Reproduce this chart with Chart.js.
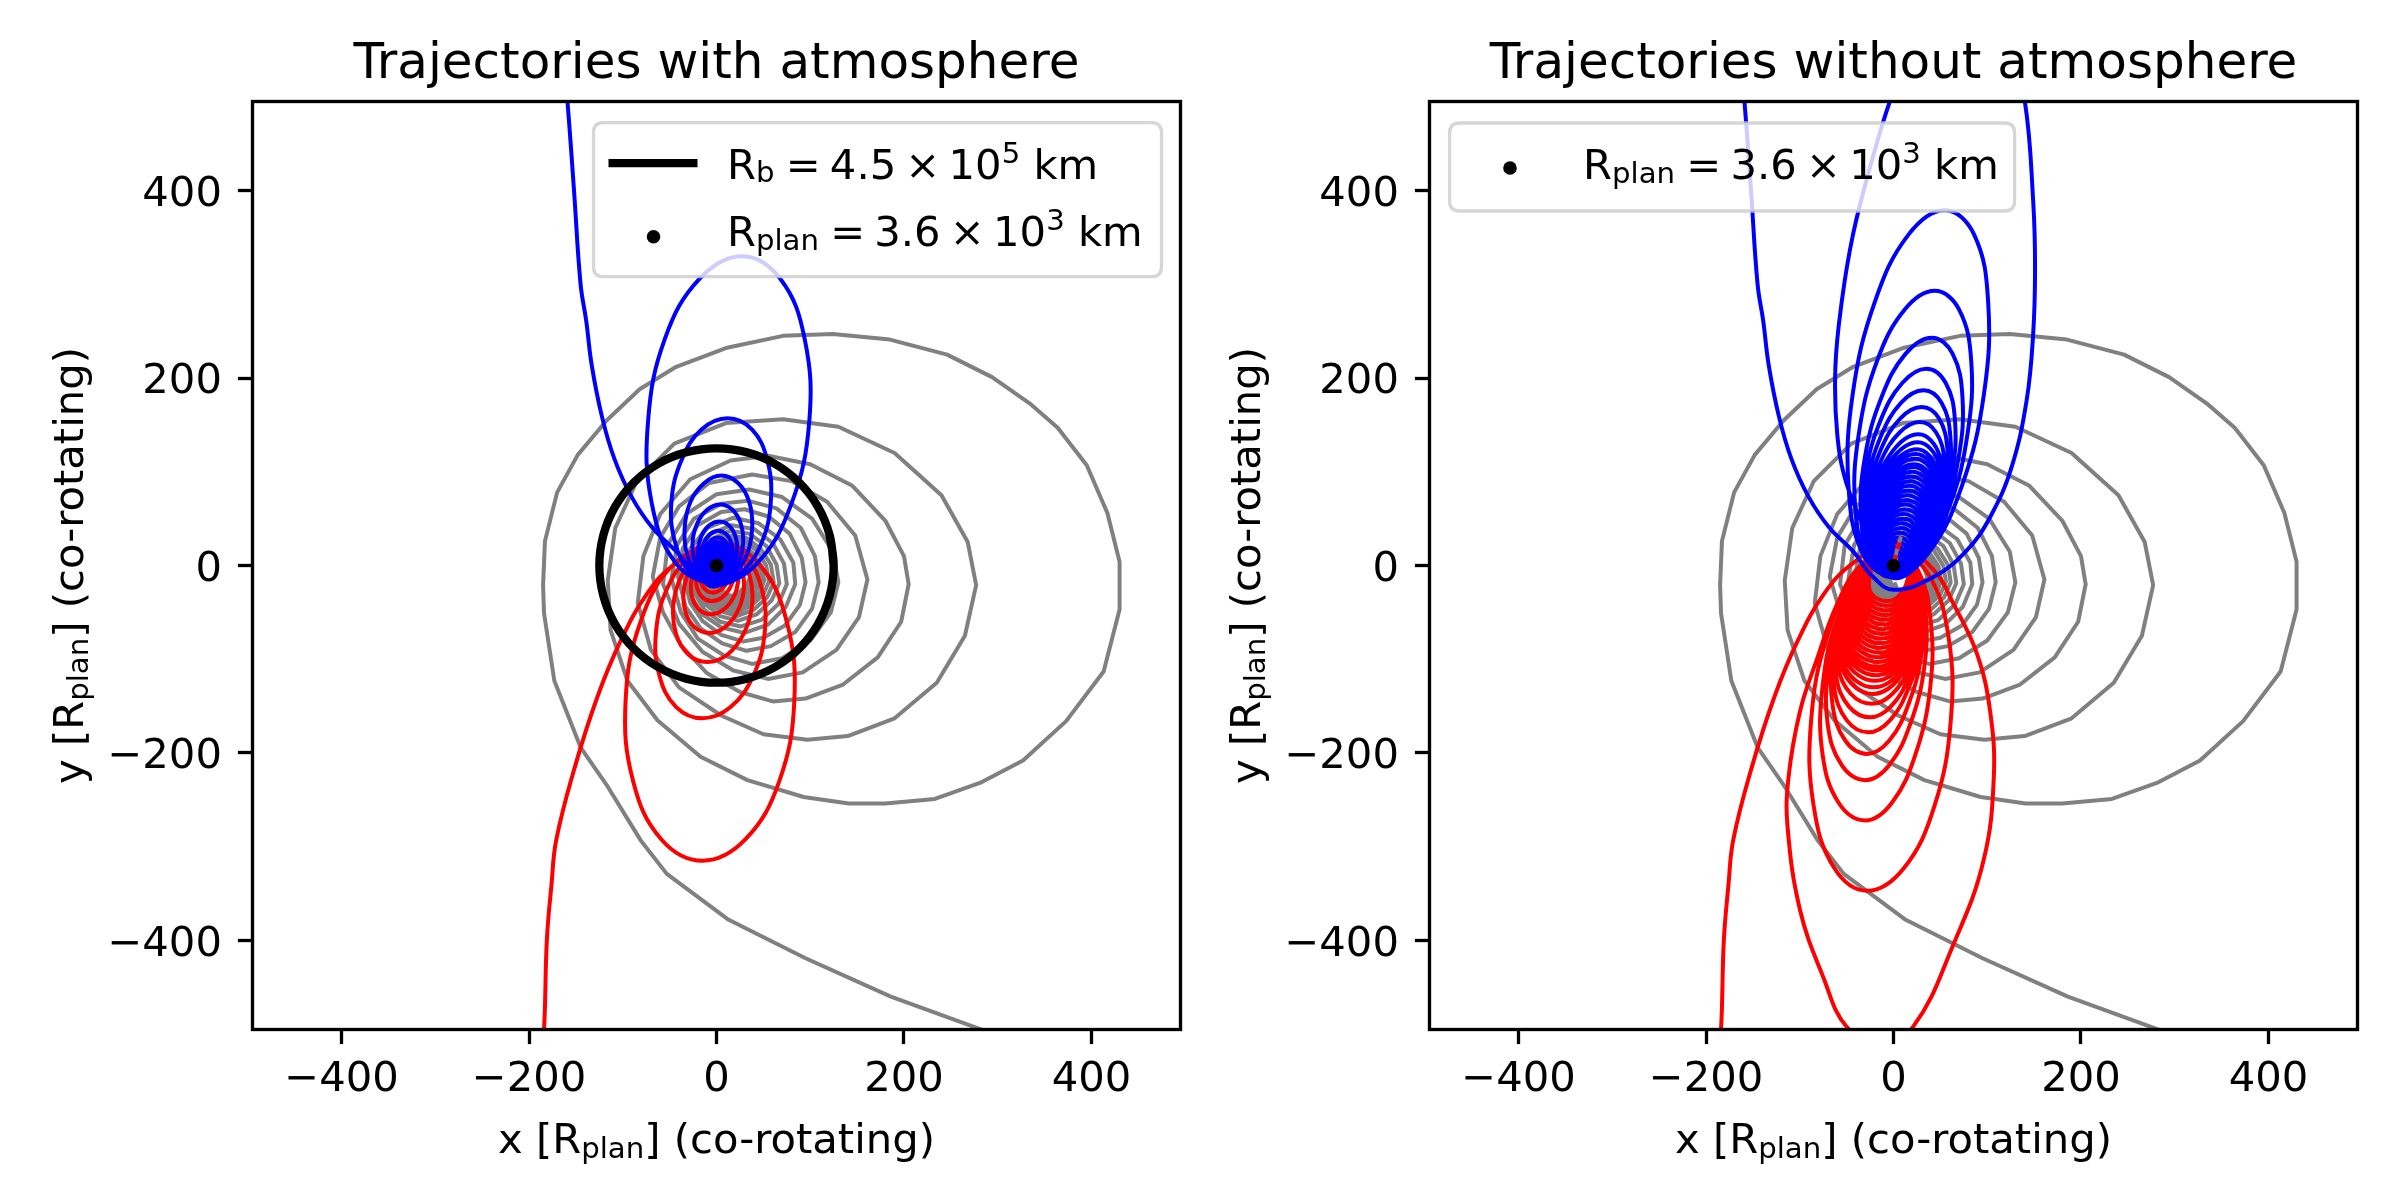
<!DOCTYPE html>
<html><head><meta charset="utf-8">
<script src="https://cdn.jsdelivr.net/npm/chart.js@4.4.1/dist/chart.umd.min.js"></script>
<style>
html,body{margin:0;padding:0;background:#fff;}
#wrap{position:relative;width:2400px;height:1200px;background:#fff;}
canvas{position:absolute;top:0;}
#c1{left:0;} #c2{left:1200px;}
</style></head>
<body><div id="wrap"><canvas id="c1" width="1200" height="1200"></canvas><canvas id="c2" width="1200" height="1200"></canvas></div>
<script>
const FONT = 'DejaVu Sans';
Chart.defaults.font.family = FONT;

// ---------- data ----------
const axisLimits = [-495, 495];
const tickValues = [-400, -200, 0, 200, 400];
const panelTitles = ['Trajectories with atmosphere', 'Trajectories without atmosphere'];
// [text, kind] kind: 0 normal, 1 subscript, 2 superscript, 3 gap (em)
const xLabelParts = [['x [R',0],['plan',1],['] (co-rotating)',0]];
const yLabelParts = [['y [R',0],['plan',1],['] (co-rotating)',0]];
const rbLabelParts = [['R',0],['b',1],['',3,0.27],['=',0],['',3,0.22],['4.5',0],['',3,0.22],['\u00d7',0],['',3,0.2],['10',0],['5',2],[' km',0]];
const rplanLabelParts = [['R',0],['plan',1],['',3,0.27],['=',0],['',3,0.22],['3.6',0],['',3,0.22],['\u00d7',0],['',3,0.2],['10',0],['3',2],[' km',0]];

const planetPoint = [[0,0]];

const boundaryCircle = [[125,0],[120.7,32.4],[108.3,62.5],[88.4,88.4],[62.5,108.3],[32.4,120.7],[0,125],[-32.4,120.7],[-62.5,108.3],[-88.4,88.4],[-108.3,62.5],[-120.7,32.4],[-125,0],[-120.7,-32.4],[-108.3,-62.5],[-88.4,-88.4],[-62.5,-108.3],[-32.4,-120.7],[0,-125],[32.4,-120.7],[62.5,-108.3],[88.4,-88.4],[108.3,-62.5],[120.7,-32.4],[125,0],[120.7,32.4]];

const grayTrajectory = [
 [310,-505],[186,-460],[95,-419],[13,-378],[-53,-329],[-81,-293],[-116,-236],[-145,-194],[-173,-123],[-184,-51],
 [-185,-21],[-183,26],[-170,78],[-148,118],[-117,155],[-82,188],[-43,212],[10,232],[71,245],[124,247],[185,241],[246,225],[294,201],[334,173],[364,147],[395,107],[417,56],[430,4],[430,-47],[413,-113],[373,-166],[327,-208],[281,-232],[233,-249],[180,-254],[141,-254],[93,-247],[33,-229],[-17,-204],[-63,-165],[-95,-123],[-113,-69],
 [-116,-16],[-108,40],[-85,90],[-45,130],[10,152],[71,156],[130,148],[190,120],[240,75],[268,25],[277,-21],[265,-75],[235,-125],[190,-163],[140,-182],[97,-186],[50,-180],[5,-160],[-40,-130],[-70,-90],
 [-84,-40],[-78,10],[-60,55],[-28,92],[15,112],[55,117],[100,108],[145,85],[180,48],[200,10],[205,-20],[197,-60],[172,-98],[135,-127],[95,-142],[60,-145],[25,-135],[-10,-115],[-38,-85],[-57,-50],
 [-68,-12],[-60,30],[-40,63],[-8,88],[38,97],[80,90],[118,68],[148,32],[161,-15],[152,-55],[128,-90],[92,-114],[55,-121],[18,-112],[-15,-92],[-40,-62],
 [-57,-20],[-52,22],[-32,55],[0,76],[35,81],[70,73],[102,50],[124,15],[130,-18],[122,-50],[100,-80],[70,-99],[38,-105],[8,-96],[-20,-78],[-38,-50],
 [-48,-14],[-42,22],[-24,50],[5,66],[34,69],[64,61],[90,40],[105,10],[109,-18],[102,-46],[84,-71],[58,-86],[32,-91],[6,-83],[-17,-67],[-33,-44],
 [-41,-12],[-36,18],[-20,43],[5,57],[30,60],[56,52],[78,34],[91,8],[95,-18],[89,-42],[73,-64],[50,-77],[28,-81],[5,-74],[-15,-59],[-28,-40],
 [-35,-11],[-28,18],[-10,40],[18,51],[45,45],[68,28],[82,3],[84,-20],[74,-44],[55,-63],[30,-72],[5,-66],[-15,-52],[-27,-33],
 [-30,-11],[-24,14],[-8,33],[16,43],[40,39],[60,24],[72,2],[75,-20],[66,-41],[48,-58],[26,-65],[4,-60],[-13,-47],[-23,-30],
 [-26,-11],[-20,11],[-6,28],[14,37],[35,34],[53,21],[64,1],[67,-19],[59,-37],[43,-52],[23,-59],[4,-54],[-11,-42],[-20,-27],
 [-22,-11],[-17,9],[-5,24],[13,32],[31,30],[47,18],[58,1],[61,-18],[54,-34],[40,-47],[22,-54],[5,-49],[-9,-38],[-17,-25],
 [-19,-11],[-14,7],[-3,21],[13,28],[29,26],[43,16],[53,0],[56,-17],[50,-31],[37,-43],[21,-50],[5,-45],[-7,-35],[-14,-23],
 [-16,-11],[-12,5],[-2,18],[13,24],[27,22],[39,13],[48,-1],[51,-16],[46,-29],[34,-40],[20,-46],[6,-42],[-5,-33],[-11,-22],
 [-13,-11],[-9,4],[0,15],[14,21],[26,19],[36,11],[44,-1],[47,-15],[42,-27],[32,-37],[19,-43],[7,-39],[-3,-31],[-9,-21],
 [-11,-11],[-7,3],[1,13],[14,18],[25,17],[34,9],[41,-2],[44,-14],[39,-25],[30,-34],[19,-40],[8,-36],[-1,-29],[-7,-20],
 [-9,-11],[-5,2],[2,11],[14,15],[24,14],[32,7],[38,-3],[41,-13],[36,-24],[28,-32],[18,-37],[9,-34],[1,-27],[-5,-19],
 [-7,-11],[-4,1],[3,9],[14,13],[23,12],[30,6],[35,-3],[38,-12],[34,-22],[26,-30],[17,-35],[9,-32],[2,-26],[-3,-18],
 [-5,-11],[-2,0],[4,7],[14,11],[22,10],[28,4],[33,-4],[36,-12],[32,-21],[25,-28],[17,-33],[10,-30],[4,-25],[1,-18]
];

const blueWithAtmosphere = [
 [-161,510],[-159,495],[-152,400],[-145,300],[-139,261],[-133,213],[-122,158],[-109,114],[-91,74],[-69,41],[-43,15],[-22,-8],
 [-2,-22],[43,2],[80,66],[99,154],[94,242],[68,306],[27,330],[-18,306],[-55,242],[-73,154],[-69,66],[-43,2],
 [-2,-20],[26,-8],[48,24],[58,69],[54,113],[38,145],[12,157],[-16,145],[-37,113],[-48,69],[-44,24],[-27,-8],
 [-1,-18],[17.5,-10],[32,10.5],[38,39],[35,67.5],[23,88],[5,96],[-13,88],[-28,67.5],[-34,39],[-31,10.5],[-18.5,-10],
 [-1,-17],[13,-11.5],[23.6,3.5],[28.4,24],[26,44.5],[17,59.5],[4,65],[-10,59.5],[-20.7,44.5],[-25.6,24],[-23,3.5],[-14,-11.5],
 [-1,-16],[9.8,-11.8],[18.2,-0.3],[22,15.5],[20.2,31.3],[13.2,42.8],[3,47],[-7.8,42.8],[-16.2,31.3],[-20,15.5],[-18.2,-0.3],[-11.2,-11.8],
 [-1,-15],[7.9,-11.5],[14.6,-2],[17.6,11],[16,24],[10.3,33.5],[2,37],[-6.7,33.5],[-13.4,24],[-16.4,11],[-14.8,-2],[-9.1,-11.5],
 [-0.7,-14],[6.5,-11.1],[12,-3],[14.4,8],[13.1,19],[8.4,27],[1.5,30],[-5.6,27],[-11.2,19],[-13.6,8],[-12.3,-3],[-7.5,-11.1],
 [0,-13],[6,-10.5],[10.4,-3.5],[12.3,6],[11,15.5],[7,22.5],[1,25],[-5,22.5],[-9.6,15.5],[-11.7,6],[-10.4,-3.5],[-6,-10.5],
 [0,-12],[8.5,-7.2],[12,4.5],[8.5,16.2],[0,21],[-8.5,16.2],[-12,4.5],[-8.5,-7.2],
 [0,-11],[7.8,-6.8],[11,3.5],[7.8,13.8],[0,18],[-7.8,13.8],[-11,3.5],[-7.8,-6.8],
 [0,-10],[7.1,-6.3],[10,2.5],[7.1,11.3],[0,15],[-7.1,11.3],[-10,2.5],[-7.1,-6.3],
 [0,-9],[6,-5.9],[8.5,1.5],[6,8.9],[0,12],[-6,8.9],[-8.5,1.5],[-6,-5.9],
 [0,-8],[5,-5.4],[7,1],[5,7.4],[0,10],[-5,7.4],[-7,1],[-5,-5.4],
 [0,-7],[4.2,-4.8],[6,0.5],[4.2,5.8],[0,8],[-4.2,5.8],[-6,0.5],[-4.2,-4.8],[0,-7]
];

const redWithAtmosphere = [
 [-187,-510],[-184,-495],[-181,-400],[-176,-340],[-171,-293],[-152,-218],[-127,-140],[-102,-80],[-74,-30],[-44,2],
 [1,25],[45,2],[75,-60],[83,-145],[67,-230],[31,-292],[-15,-315],[-59,-292],[-89,-230],[-97,-145],[-81,-60],[-45,2],
 [2,22],[30,9.6],[48,-24],[51.5,-70.5],[39.5,-117],[15,-151],[-15,-163],[-43,-151],[-61,-117],[-64.5,-70.5],[-52.4,-24],[-28,9.6],
 [2,20],[22,12],[35.4,-11],[38,-41.5],[29.4,-72],[11.8,-95],[-10,-103],[-30,-95],[-43.4,-72],[-46,-41.5],[-37.4,-11],[-20,12],
 [2,18],[17.3,12],[27.2,-4.5],[29,-27],[22.2,-49.5],[8.7,-66],[-8,-72],[-23.3,-66],[-33.2,-49.5],[-35,-27],[-28.2,-4.5],[-14.7,12],
 [2,17],[13.9,12.4],[21.7,-0.3],[23,-17.5],[17.7,-34.8],[7,-47.4],[-6,-52],[-18,-47.4],[-25.7,-34.8],[-27,-17.5],[-21.7,-0.3],[-11.1,12.4],
 [2,16],[11.6,12.4],[17.6,2.5],[18.6,-11],[14.1,-24.5],[5.5,-34.4],[-5,-38],[-14.5,-34.4],[-20.5,-24.5],[-21.4,-11],[-17,2.5],[-8.4,12.4],
 [2,15],[9.7,12.1],[14.5,4],[15,-7],[11.4,-18],[4.4,-26],[-4,-29],[-11.6,-26],[-16.4,-18],[-17,-7],[-13.3,4],[-6.3,12.1],
 [1.8,14],[8,11.5],[11.9,4.75],[12.4,-4.5],[9.5,-13.75],[3.8,-20.5],[-3,-23],[-9.2,-20.5],[-13,-13.75],[-13.6,-4.5],[-10.6,4.75],[-5,11.5],[1.5,13]
];

const blueWithoutAtmosphere = [
 [-161,510],[-159,495],[-152,400],[-145,300],[-139,261],[-133,213],[-122,158],[-109,114],[-91,74],[-69,41],[-43,15],[-22,-12],[0,-26],
 [43,-12],[78,16],[103,51.5],[126,105],[142,176],[149,247],[151,318],[149,389],[140,496],[125,545],[100,578],[75,590],[45,582],[20,555],[-3.6,496],[-25,425],[-43,354],[-55,283],[-62,211.5],[-60,140],[-50,87],[-28,34],
 [-2,-13],[37,13],[73,85],[96.5,183],[101,281],[86,353],[55,379],[16,353],[-20,281],[-43.5,183],[-48,85],[-33,13],
 [-2,-12],[30,8],[60,64],[79,140.5],[83,217],[70,273],[44,293],[12,273],[-18,217],[-37,140.5],[-41,64],[-28,8],
 [-2,-12],[26,5],[52,52],[69.5,115.5],[73.6,179],[63,226],[41,243],[13,226],[-13,179],[-30.5,115.5],[-34.6,52],[-24,5],
 [-2,-12],[23.5,3],[47,43.5],[62.5,99],[65.6,154.5],[55.6,195],[35,210],[9.6,195],[-14,154.5],[-29.5,99],[-32.5,43.5],[-22.5,3],
 [-2,-12],[21.7,1.3],[43.7,37.8],[58,87.5],[60.7,137.3],[51.2,173.7],[32,187],[8.2,173.7],[-13.7,137.3],[-28,87.5],[-30.7,37.8],[-21.3,1.3],
 [-2,-12],[20.5,0],[41.4,33.3],[55,78.5],[57.5,123.8],[48.4,157],[30,169],[7.4,157],[-13.5,123.8],[-27,78.5],[-29.6,33.3],[-20.5,0],
 [-2,-12],[19.3,-1],[39.2,29.3],[51.9,70.5],[54.3,111.8],[45.5,141.9],[28,153],[6.5,141.9],[-13.3,111.8],[-26.1,70.5],[-28.4,29.3],[-19.7,-1],
 [-2,-12],[28.5,10.3],[50,64],[49,117.7],[27,140],[-4,117.7],[-25,64],[-24.5,10.3],
 [-2,-12],[27.6,9],[48.3,59.8],[47.7,110.5],[26,131.5],[-3.9,110.5],[-24.7,59.8],[-24,9],
 [-2,-12],[26.7,7.9],[46.7,56],[45.9,104],[25,124],[-4.3,104],[-24.3,56],[-23.5,7.9],
 [-2,-12],[26.1,7.2],[45.7,53.5],[44.7,99.8],[24,119],[-4.7,99.8],[-24.3,53.5],[-23.3,7.2],
 [-2,-12],[25.7,6.5],[44.7,51],[43.5,95.5],[23,114],[-5.3,95.5],[-24.3,51],[-23.1,6.5],
 [-2,-12],[25.1,5.6],[43.8,48],[42.4,90.4],[22,108],[-5.6,90.4],[-24.2,48],[-22.9,5.6],
 [-2,-12],[24.7,5.1],[42.8,46.5],[41.3,87.9],[21,105],[-6.1,87.9],[-24.2,46.5],[-22.7,5.1],
 [-2,-11],[24.4,5.3],[41.9,44.5],[40,83.7],[20,100],[-6.6,83.7],[-24.1,44.5],[-22.2,5.3],
 [-2,-11],[23.5,4.5],[40.4,42],[38.5,79.5],[19,95],[-6.7,79.5],[-23.6,42],[-21.7,4.5],
 [-2,-11],[22.7,3.8],[38.9,39.5],[36.9,75.2],[18,90],[-6.9,75.2],[-23.1,39.5],[-21.1,3.8],
 [-2,-11],[21.8,3.1],[37.4,37],[35.4,70.9],[17,85],[-7,70.9],[-22.6,37],[-20.6,3.1],
 [-2,-11],[21,2.3],[35.9,34.5],[33.8,66.7],[16,80],[-7.2,66.7],[-22.1,34.5],[-20,2.3],
 [-2,-11],[20.1,1.6],[34.4,32],[32.3,62.4],[15,75],[-7.3,62.4],[-21.6,32],[-19.5,1.6],
 [-2,-11],[19.3,0.9],[32.9,29.5],[30.7,58.1],[14,70],[-7.5,58.1],[-21.1,29.5],[-18.9,0.9],
 [-2,-11],[18.4,0],[31.4,27],[29.2,53.9],[13,65],[-7.6,53.9],[-20.6,27],[-18.4,0],
 [-2,-11],[17.6,-0.6],[29.9,24.5],[27.6,49.6],[12,60],[-7.8,49.6],[-20.1,24.5],[-17.8,-0.6],
 [-2,-11],[16.7,-1.3],[28.4,22],[26.1,45.3],[11,55],[-7.9,45.3],[-19.6,22],[-17.3,-1.3],
 [-2,-11],[15.5,-2.1],[26.4,19.5],[24.1,41.1],[10,50],[-7.7,41.1],[-18.6,19.5],[-16.3,-2.1],
 [-2,-11],[14.2,-2.8],[24.4,17],[22.2,36.8],[9,45],[-7.4,36.8],[-17.6,17],[-15.4,-2.8],
 [-2,-11],[13.1,-3.5],[22.4,14.5],[20.3,32.5],[8,40],[-7.3,32.5],[-16.6,14.5],[-14.5,-3.5],
 [-2,-11],[11.8,-4.3],[20.4,12],[18.4,28.3],[7,35],[-7,28.3],[-15.6,12],[-13.6,-4.3],
 [-2,-10],[10.5,-4.1],[18,10],[16.1,24.1],[6,30],[-6.5,24.1],[-14,10],[-12.1,-4.1],
 [-1.8,-9],[8.7,-4],[15.1,8],[13.5,20],[5,25],[-5.5,20],[-11.9,8],[-10.3,-4],
 [-1.6,-8],[7,-3.9],[12.2,6],[11,15.9],[4,20],[-4.6,15.9],[-9.8,6],[-8.6,-3.9],
 [-1.4,-7],[5.2,-3.8],[9.3,4],[8.4,11.8],[3,15],[-3.6,11.8],[-7.7,4],[-6.8,-3.8],
 [-1.2,-6],[3.9,-3.5],[7,2.5],[6.3,8.5],[2.2,11],[-2.9,8.5],[-6,2.5],[-5.3,-3.5],[-1.2,-6]
];

const redWithoutAtmosphere = [
 [-187,-510],[-184,-495],[-181,-400],[-176,-340],[-171,-293],[-152,-218],[-127,-140],[-102,-80],[-74,-30],[-44,2],
 [0,25],[43,-5],[64,-41],[89,-94],[103,-155],[107,-226],[96,-315],[64,-404],[21,-492],[-14,-510],[-50,-492],[-75,-439],[-99.6,-368],[-113,-279],[-112,-226],[-99.6,-155],[-82,-101],[-60,-41],[-35,0],
 [1.3,16],[36.5,-8.3],[58.5,-74.75],[61.1,-165.5],[43.8,-256.25],[11.2,-322.7],[-28,-347],[-63.2,-322.7],[-85.2,-256.25],[-87.9,-165.5],[-70.5,-74.75],[-37.9,-8.3],
 [1.5,14],[26.2,-5.2],[39.5,-57.5],[39.3,-129],[23.8,-200.5],[-1.5,-252.8],[-30,-272],[-58.7,-252.8],[-75.8,-200.5],[-75.7,-129],[-60.1,-57.5],[-31.4,-5.2],
 [1.7,13],[23.1,-3.2],[34,-47.5],[32.9,-108],[18.1,-168.5],[-4.4,-212.8],[-30,-229],[-55.4,-212.8],[-70.3,-168.5],[-69.1,-108],[-54.4,-47.5],[-27.9,-3.2],
 [1.8,13],[21.3,-1.3],[31.1,-40.5],[29.9,-94],[16.2,-147.5],[-4.5,-186.7],[-28,-201],[-51.5,-186.7],[-65.2,-147.5],[-64.1,-94],[-50.3,-40.5],[-25.7,-1.3],
 [2,13],[21,0.2],[30.6,-34.75],[29.6,-82.5],[16.3,-130.25],[-3.8,-165.2],[-26.7,-178],[-49.8,-165.2],[-63.3,-130.25],[-62.4,-82.5],[-49,-34.75],[-25,0.2],
 [2,13],[20.7,1.3],[30.3,-30.75],[29.5,-74.5],[16.8,-118.25],[-2.7,-150.3],[-25,-162],[-47.7,-150.3],[-61.2,-118.25],[-60.5,-74.5],[-47.7,-30.75],[-24.3,1.3],
 [2,13],[20.6,2.2],[30.3,-27.15],[30,-67.3],[17.7,-107.45],[-1.1,-136.8],[-23,-147.6],[-45.6,-136.8],[-59.3,-107.45],[-59,-67.3],[-46.7,-27.15],[-24,2.2],
 [1.9,12],[26.5,-9.8],[30,-62.5],[9.7,-115.2],[-22,-137],[-52.5,-115.2],[-58,-62.5],[-35.7,-9.8],
 [1.9,12],[26.4,-8.8],[30.1,-59],[10.3,-109.2],[-20.8,-130],[-51.3,-109.2],[-56.9,-59],[-35.2,-8.8],
 [1.9,12],[26.2,-7.8],[30.1,-55.5],[10.9,-103.2],[-19.7,-123],[-49.9,-103.2],[-55.9,-55.5],[-34.6,-7.8],
 [1.9,12],[25.9,-6.9],[30.1,-52.5],[11.3,-98.1],[-18.7,-117],[-48.7,-98.1],[-54.9,-52.5],[-34.1,-6.9],
 [1.9,12],[25.7,-6.2],[30,-50],[11.7,-93.8],[-17.9,-112],[-47.7,-93.8],[-54,-50],[-33.7,-6.2],
 [1.9,12],[25.4,-5.6],[29.8,-48],[11.8,-90.4],[-17.3,-108],[-46.8,-90.4],[-53.2,-48],[-33.2,-5.6],
 [1.9,12],[25.2,-4.8],[29.7,-45.5],[12.2,-86.2],[-16.5,-103],[-45.8,-86.2],[-52.3,-45.5],[-32.8,-4.8],
 [1.9,12],[24.2,-4.1],[28.6,-43],[11.8,-81.9],[-15.7,-98],[-44,-81.9],[-50.4,-43],[-31.6,-4.1],
 [1.9,12],[23.4,-3.4],[27.5,-40.5],[11.5,-77.6],[-14.9,-93],[-42.3,-77.6],[-48.5,-40.5],[-30.4,-3.4],
 [1.9,12],[22.4,-2.7],[26.4,-38],[11.1,-73.4],[-14.1,-88],[-40.5,-73.4],[-46.6,-38],[-29.2,-2.7],
 [1.9,12],[21.4,-1.9],[25.3,-35.5],[10.6,-69.1],[-13.3,-83],[-38.8,-69.1],[-44.7,-35.5],[-28,-1.9],
 [1.9,12],[20.5,-1.2],[24.2,-33],[10.3,-64.8],[-12.5,-78],[-37.1,-64.8],[-42.8,-33],[-26.9,-1.2],
 [1.9,12],[19.5,-0.5],[23.1,-30.5],[9.9,-60.5],[-11.7,-73],[-35.3,-60.5],[-40.9,-30.5],[-25.7,-0.5],
 [1.9,12],[18.6,0.3],[22,-28],[9.6,-56.3],[-10.9,-68],[-33.6,-56.3],[-39,-28],[-24.6,0.3],
 [1.9,12],[17.7,1],[20.9,-25.5],[9.2,-52],[-10.1,-63],[-31.8,-52],[-37.1,-25.5],[-23.3,1],
 [1.9,12],[16.7,1.7],[19.8,-23],[8.8,-47.7],[-9.3,-58],[-30,-47.7],[-35.2,-23],[-22.1,1.7],
 [1.9,12],[15.8,2.5],[18.7,-20.5],[8.4,-43.5],[-8.5,-53],[-28.4,-43.5],[-33.3,-20.5],[-21,2.5],
 [1.9,12],[14.8,3.2],[17.6,-18],[8,-39.2],[-7.7,-48],[-26.6,-39.2],[-31.4,-18],[-19.8,3.2],
 [1.9,12],[13.9,3.9],[16.5,-15.5],[7.7,-34.9],[-6.9,-43],[-24.9,-34.9],[-29.5,-15.5],[-18.7,3.9],
 [1.9,12],[13,4.7],[15.4,-13],[7.3,-30.7],[-6.1,-38],[-23.1,-30.7],[-25.6,-13],[-17.4,4.7],[1.9,12]
];

const capturedSegment = [[1,4],[4,18],[8,31]];

// ---------- helpers ----------
const toXY = arr => arr.map(p => ({x: p[0], y: p[1]}));
function lineSet(label, arr, color, width, tension, order, dash) {
  return {label, data: toXY(arr), showLine: true, borderColor: color, backgroundColor: color,
    borderWidth: width, pointRadius: 0, pointHoverRadius: 0, tension, order, fill: false,
    borderJoinStyle: 'round', borderCapStyle: 'butt', borderDash: dash || []};
}
function pointSet(label, arr, order) {
  return {label, data: toXY(arr), showLine: false, pointRadius: 6.8, pointHoverRadius: 6.8,
    backgroundColor: '#000', borderColor: '#000', borderWidth: 0, order};
}
function partSize(k, F) { return (k === 1 || k === 2) ? F * 0.7 : F; }
function partAdvance(ctx, part, F) {
  const [t, k, g] = part;
  if (k === 3) return g * F;
  ctx.font = partSize(k, F) + 'px ' + FONT;
  return ctx.measureText(t).width;
}
function drawRich(ctx, parts, x, y, F, align, subShift) {
  let w = 0;
  for (const p of parts) w += partAdvance(ctx, p, F);
  let cx = align === 'center' ? x - w / 2 : x;
  ctx.textAlign = 'left'; ctx.textBaseline = 'alphabetic'; ctx.fillStyle = '#000';
  for (const p of parts) {
    const [t, k] = p;
    if (k !== 3) {
      ctx.font = partSize(k, F) + 'px ' + FONT;
      const dy = k === 1 ? subShift * F : (k === 2 ? -0.385 * F : 0);
      ctx.fillText(t, cx, y + dy);
    }
    cx += partAdvance(ctx, p, F);
  }
}
function roundRect(ctx, x, y, w, h, r) {
  ctx.beginPath();
  ctx.moveTo(x + r, y); ctx.lineTo(x + w - r, y); ctx.quadraticCurveTo(x + w, y, x + w, y + r);
  ctx.lineTo(x + w, y + h - r); ctx.quadraticCurveTo(x + w, y + h, x + w - r, y + h);
  ctx.lineTo(x + r, y + h); ctx.quadraticCurveTo(x, y + h, x, y + h - r);
  ctx.lineTo(x, y + r); ctx.quadraticCurveTo(x, y, x + r, y); ctx.closePath();
}

const decorPlugin = {
  id: 'decor',
  afterDraw(chart, args, opts) {
    const ctx = chart.ctx, ca = chart.chartArea;
    const cx = (ca.left + ca.right) / 2, cy = (ca.top + ca.bottom) / 2;
    ctx.save();
    ctx.strokeStyle = '#000'; ctx.lineWidth = 3.33;
    ctx.strokeRect(ca.left, ca.top, ca.right - ca.left, ca.bottom - ca.top);
    ctx.fillStyle = '#000'; ctx.textAlign = 'center'; ctx.textBaseline = 'alphabetic';
    ctx.font = '50px ' + FONT;
    ctx.fillText(opts.title, cx, 77.5);
    drawRich(ctx, xLabelParts, cx, 1153, 41.7, 'center', 0.12);
    ctx.save();
    ctx.translate(ca.left - 170, cy); ctx.rotate(-Math.PI / 2);
    drawRich(ctx, yLabelParts, 0, 0, 41.7, 'center', 0.12);
    ctx.restore();
    // legend
    const F = 41.7;
    let box;
    if (opts.legend === 'right') box = {x: ca.right - 19 - 568, y: ca.top + 21.2, w: 568, h: 154};
    else box = {x: ca.left + 20.1, y: ca.top + 21.5, w: 565, h: 88};
    roundRect(ctx, box.x, box.y, box.w, box.h, 10);
    ctx.fillStyle = 'rgba(255,255,255,0.8)'; ctx.fill();
    ctx.strokeStyle = 'rgba(204,204,204,0.8)'; ctx.lineWidth = 3.3; ctx.stroke();
    if (opts.legend === 'right') {
      ctx.strokeStyle = '#000'; ctx.lineWidth = 8.3; ctx.lineCap = 'butt';
      ctx.beginPath(); ctx.moveTo(box.x + 15, box.y + 40.5); ctx.lineTo(box.x + 104, box.y + 40.5); ctx.stroke();
      drawRich(ctx, rbLabelParts, box.x + 133.5, box.y + 56, F, 'left', 0.08);
      ctx.fillStyle = '#000'; ctx.beginPath(); ctx.arc(box.x + 60, box.y + 114, 6.8, 0, Math.PI * 2); ctx.fill();
      drawRich(ctx, rplanLabelParts, box.x + 133.5, box.y + 123.5, F, 'left', 0.08);
    } else {
      ctx.fillStyle = '#000'; ctx.beginPath(); ctx.arc(box.x + 60.4, box.y + 45, 6.8, 0, Math.PI * 2); ctx.fill();
      drawRich(ctx, rplanLabelParts, box.x + 133.5, box.y + 56.2, F, 'left', 0.08);
    }
    ctx.restore();
  }
};

function scaleCfg(axis) {
  return {
    type: 'linear', position: axis === 'x' ? 'bottom' : 'left',
    min: axisLimits[0], max: axisLimits[1],
    afterBuildTicks: s => { s.ticks = tickValues.map(v => ({value: v})); },
    afterFit: s => { if (axis === 'x') s.height = 100; else s.width = 150; },
    grid: {display: true, drawOnChartArea: false, drawTicks: true, tickLength: 14.6, tickWidth: 3.3, tickColor: '#000', color: '#000', lineWidth: 1},
    border: {display: false},
    ticks: {color: '#000', font: {size: 41.7, family: FONT}, padding: axis === 'x' ? 11 : 16,
      labelOffset: axis === 'y' ? 4.4 : 0, maxRotation: 0, minRotation: 0, autoSkip: false,
      callback: v => (v < 0 ? '\u2212' : '') + Math.abs(v)}
  };
}

function makeChart(id, datasets, padLeft, padRight, title, legendSide) {
  return new Chart(document.getElementById(id), {
    type: 'scatter',
    data: {datasets},
    options: {
      responsive: false, animation: false, devicePixelRatio: 1, events: [],
      layout: {padding: {left: padLeft, right: padRight, top: 101.5, bottom: 70.5}},
      elements: {line: {capBezierPoints: false}},
      scales: {x: scaleCfg('x'), y: scaleCfg('y')},
      plugins: {legend: {display: false}, tooltip: {enabled: false}, title: {display: false},
        decor: {title, legend: legendSide}}
    },
    plugins: [decorPlugin]
  });
}

makeChart('c1', [
  pointSet('R_plan', planetPoint, 0),
  lineSet('R_b', boundaryCircle, '#000000', 8.3, 0.4, 1),
  lineSet('blue', blueWithAtmosphere, '#0000ff', 4, 0.4, 2),
  lineSet('red', redWithAtmosphere, '#ff0000', 4, 0.4, 3),
  lineSet('gray', grayTrajectory, '#808080', 4, 0, 4)
], 102.5, 19.5, panelTitles[0], 'right');

makeChart('c2', [
  pointSet('R_plan', planetPoint, 0),
  lineSet('captured red', capturedSegment, '#ff0000', 4, 0, 1, [7, 6]),
  lineSet('captured gray', capturedSegment, '#808080', 4, 0, 1.5),
  lineSet('blue', blueWithoutAtmosphere, '#0000ff', 4, 0.4, 2),
  lineSet('red', redWithoutAtmosphere, '#ff0000', 4, 0.4, 3),
  lineSet('gray', grayTrajectory, '#808080', 4, 0, 4)
], 79.5, 42.5, panelTitles[1], 'left');
</script></body></html>
